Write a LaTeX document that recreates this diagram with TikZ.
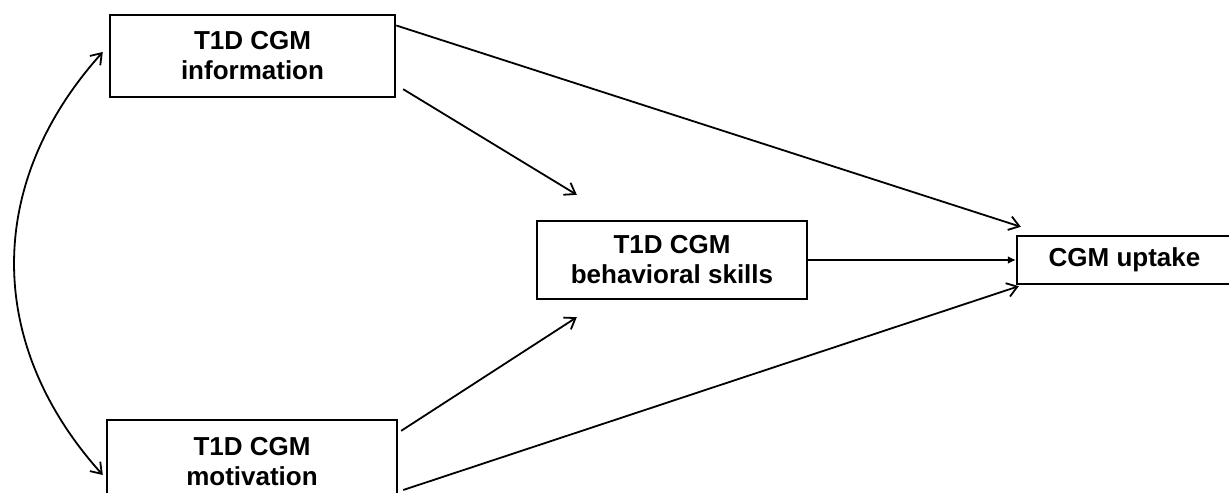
\documentclass[tikz,border=0pt]{standalone}
\usepackage{fontspec}
\setmainfont{Liberation Sans}
\usetikzlibrary{arrows.meta}

\begin{document}
\begin{tikzpicture}[x=0.5pt,y=-0.5pt,
        box/.style={draw,line width=1.2pt,align=center,inner sep=0pt,
            font=\bfseries\fontsize{13}{15}\selectfont},
        link/.style={line width=0.9pt,-{Straight Barb[length=5pt,width=7pt]}}]
        \useasboundingbox (0,0) rectangle (1229,492);
        \clip (0,0) rectangle (1229,492);
        \node[box,minimum width=142.5pt,minimum height=41pt] (info) at (252.5,56) {T1D CGM\\information};
        \node[box,minimum width=145pt,minimum height=42pt] (motiv) at (252,462) {T1D CGM\\motivation};
        \node[box,minimum width=135pt,minimum height=39pt] (skills) at (672,260) {T1D CGM\\behavioral skills};
        \node[box,minimum width=107.5pt,minimum height=24pt] (uptake) at (1124.5,260) {CGM uptake};
        %\draw[red] (info.12) circle [radius=3];
        \draw[link] (info.12) -- ([shift={(5,-8)}]uptake.north west);
        \draw[link] ([shift={(7,-9)}]info.south east) -- ([shift={(41,-25)}]skills.north west);
        \draw[line width=0.9pt,-{Latex[length=4pt,width=4pt]}] (skills.east) -- (uptake.west);
        \draw[link] ([shift={(3,12)}]motiv.north east) -- ([shift={(41,17)}]skills.south west);
        \draw[link] ([shift={(5,28)}]motiv.east) -- ([shift={(3,1)}]uptake.south west);
        \draw[link,{Straight Barb[length=5pt,width=7pt]}-{Straight Barb[length=5pt,width=7pt]}]
            ([shift={(-6,-4)}]info.west) .. controls (-15,183) and (-15,344) .. ([shift={(-3,13)}]motiv.west);
    \end{tikzpicture}
\end{document}
